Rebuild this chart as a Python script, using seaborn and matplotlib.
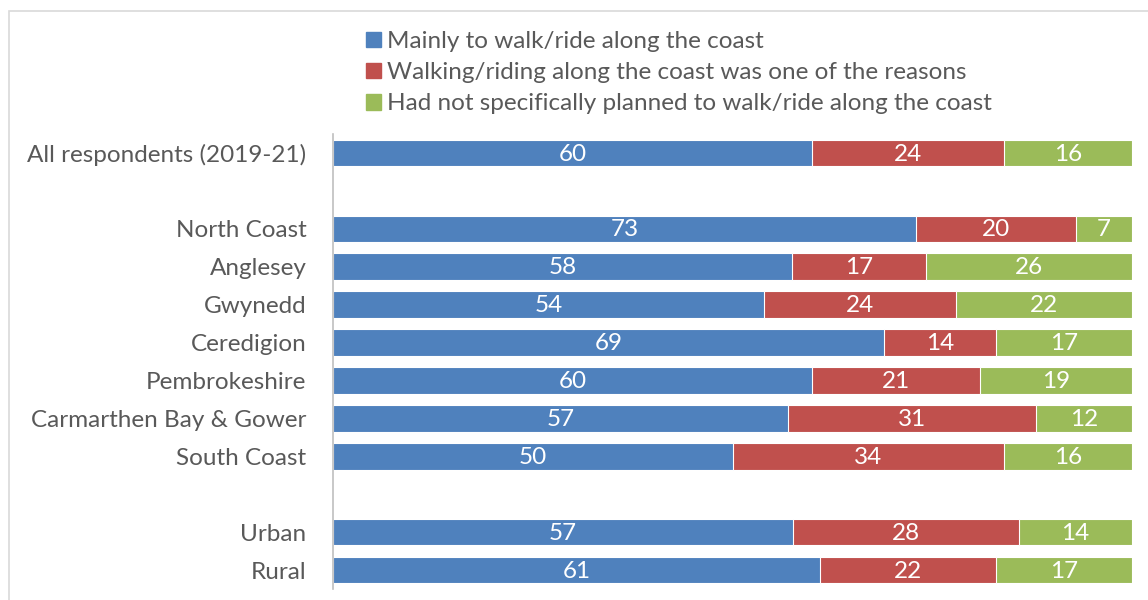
import matplotlib
matplotlib.use("Agg")
import matplotlib.pyplot as plt
import seaborn as sns
import pandas as pd
import numpy as np
from matplotlib.patches import Rectangle

categories = ["All respondents (2019-21)", " ", "North Coast", "Anglesey", "Gwynedd",
              "Ceredigion", "Pembrokeshire", "Carmarthen Bay & Gower", "South Coast",
              "  ", "Urban", "Rural"]
mainly = [60, np.nan, 73, 58, 54, 69, 60, 57, 50, np.nan, 57, 61]
one_of = [24, np.nan, 20, 17, 24, 14, 21, 31, 34, np.nan, 28, 22]
not_planned = [16, np.nan, 7, 26, 22, 17, 19, 12, 16, np.nan, 14, 17]
series_names = ["Mainly to walk/ride along the coast",
                "Walking/riding along the coast was one of the reasons",
                "Had not specifically planned to walk/ride along the coast"]
colors = ["#4F81BD", "#C0504D", "#9BBB59"]

sns.set_theme(style="white")
plt.rcParams['font.family'] = ['Lato', 'DejaVu Sans']

df = pd.DataFrame({"cat": categories, "a": mainly, "b": one_of, "c": not_planned})
tot = df[["a", "b", "c"]].sum(axis=1)
# 100% stacked: normalise to shares
df["pa"] = df["a"] / tot * 100
df["pb"] = df["b"] / tot * 100
df["pc"] = df["c"] / tot * 100
df["cum1"] = df["pa"]
df["cum2"] = df["pa"] + df["pb"]
df["cum3"] = df["pa"] + df["pb"] + df["pc"]

FS = 17.5

fig = plt.figure(figsize=(11.48, 6.0), dpi=100)
fig.patches.append(Rectangle((9 / 1148, -0.1), 1.2, (600 - 11) / 600 + 0.1,
                             transform=fig.transFigure, fill=False,
                             edgecolor="#D9D9D9", linewidth=1.2, zorder=0))
ax = fig.add_axes([333 / 1148, 1 - 589 / 600, (1132 - 333) / 1148, (589 - 134) / 600])

for col, c in zip(["cum3", "cum2", "cum1"], colors[::-1]):
    sns.barplot(data=df, x=col, y="cat", order=categories, orient="h",
                color=c, saturation=1, width=0.7, edgecolor="white",
                linewidth=0.8, ax=ax)

for i, row in df.iterrows():
    if np.isnan(row["a"]):
        continue
    starts = [0, row["cum1"], row["cum2"]]
    widths = [row["pa"], row["pb"], row["pc"]]
    vals = [row["a"], row["b"], row["c"]]
    for s, w, v in zip(starts, widths, vals):
        ax.text(s + w / 2, i + 0.03, f"{int(v)}", ha="center", va="center",
                color="white", fontsize=FS)

ax.set_xlim(0, 100)
ax.set_ylim(11.5, -0.5)
ax.set_xlabel("")
ax.set_ylabel("")
ax.set_xticks([])
for s in ["top", "right", "bottom"]:
    ax.spines[s].set_visible(False)
ax.spines["left"].set_color("#BFBFBF")
ax.spines["left"].set_linewidth(1.2)
ax.tick_params(axis="y", length=0, pad=19, labelsize=FS, labelcolor="#595959")

handles = [Rectangle((0, 0), 1, 1, color=c) for c in colors]
fig.legend(handles, series_names, loc="upper left",
           bbox_to_anchor=(366 / 1148, 1 - 31 / 600), frameon=False,
           fontsize=FS, labelcolor="#595959", handlelength=0.6,
           handleheight=0.6, handletextpad=0.25, labelspacing=0.42,
           borderaxespad=0, borderpad=0)

fig.savefig("out.png", dpi=100)
